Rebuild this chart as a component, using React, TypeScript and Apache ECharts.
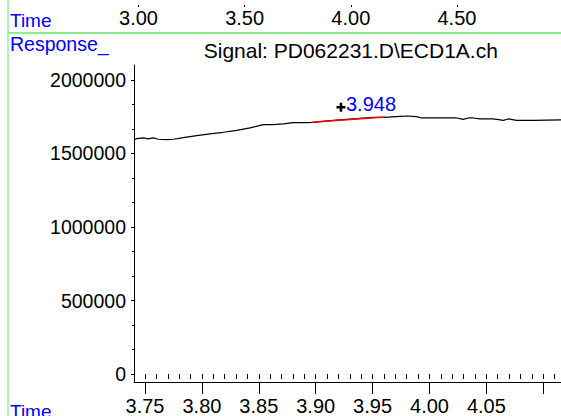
import React, { useEffect, useRef } from "react";
import * as echarts from "echarts";

// Chromatogram signal (time in min, response)
const timeValues = [3.7412, 3.7427, 3.7485, 3.7529, 3.7573, 3.7617, 3.7691, 3.7749, 3.7837, 3.7954, 3.8071, 3.8188, 3.8306, 3.8423, 3.854, 3.8627, 3.8715, 3.8803, 3.8921, 3.8979, 3.9126, 3.9243, 3.936, 3.9506, 3.9609, 3.9741, 3.98, 3.9888, 3.9931, 4.0033, 4.0151, 4.0239, 4.0297, 4.0341, 4.0385, 4.0444, 4.0561, 4.0649, 4.0692, 4.0766, 4.0912, 4.1156];
const responseValues = [1594600, 1601400, 1606100, 1599300, 1606100, 1596600, 1594600, 1596600, 1608100, 1621600, 1633100, 1643900, 1657400, 1673600, 1696000, 1696000, 1700700, 1709500, 1709500, 1711500, 1723000, 1729700, 1736500, 1745300, 1745300, 1752000, 1754700, 1750000, 1741200, 1741200, 1741200, 1741200, 1731800, 1741200, 1741200, 1734500, 1734500, 1725000, 1734500, 1725000, 1725000, 1727700];

// Peak integration baseline
const baselineTimes = [3.8965, 3.9609];
const baselineValues = [1711500, 1748000];

// Peak marker
const peakMarkerTime = 3.9222;
const peakMarkerValue = 1814200;
const peakRetentionTime = 3.948;

// Axes
const xMajorTicks = [3.75, 3.8, 3.85, 3.9, 3.95, 4.0, 4.05, 4.1];
const xTickLabels = [3.75, 3.8, 3.85, 3.9, 3.95, 4.0, 4.05];
const yMajorTicks = [0, 500000, 1000000, 1500000, 2000000];
const yMinorTicks = [166667, 333333, 666667, 833333, 1166667, 1333333, 1666667, 1833333];
const overviewTicks = [3.0, 3.5, 4.0, 4.5];

const titleText = "Signal: PD062231.D\\ECD1A.ch";
const FONT = "'Liberation Sans', Arial, sans-serif";

export default function App() {
  const ref = useRef<HTMLDivElement>(null);
  useEffect(() => {
    if (!ref.current) return;
    const chart = echarts.init(ref.current, null, { renderer: "svg" });
    const xMinorTicks: number[] = [];
    for (let i = 375; i <= 411; i++) xMinorTicks.push(i / 100);

    const signal = timeValues.map((t, i) => [t, responseValues[i]]);
    const baseline = baselineTimes.map((t, i) => [t, baselineValues[i]]);

    const txt = (text: string, x: number, y: number, size: number, color: string, align = "left") => ({
      type: "text",
      x,
      y,
      silent: true,
      style: {
        text,
        fill: color,
        fontSize: size,
        fontFamily: FONT,
        align,
        textAlign: align,
        verticalAlign: "middle",
        textVerticalAlign: "middle",
      },
    });

    chart.setOption({
      animation: false,
      backgroundColor: "#ffffff",
      grid: [
        { left: 134, top: 65, width: 427, height: 319 },
        { left: 0, top: -20, width: 561, height: 20 },
      ],
      xAxis: [
        {
          gridIndex: 0,
          type: "value",
          min: 3.7403,
          max: 4.1156,
          position: "bottom",
          axisLine: { show: true, onZero: false, lineStyle: { color: "#000", width: 1 } },
          axisTick: { show: true, inside: false, length: 12, customValues: xMajorTicks, lineStyle: { color: "#000", width: 1 } },
          axisLabel: {
            show: true,
            customValues: xTickLabels,
            formatter: (v: number) => v.toFixed(2),
            margin: 14,
            fontSize: 20,
            fontFamily: FONT,
            color: "#000",
          },
          splitLine: { show: false },
        },
        {
          gridIndex: 0,
          type: "value",
          min: 3.7403,
          max: 4.1156,
          position: "bottom",
          axisLine: { show: false },
          axisTick: { show: true, inside: false, length: 5, customValues: xMinorTicks, lineStyle: { color: "#000", width: 1 } },
          axisLabel: { show: false },
          splitLine: { show: false },
        },
        {
          gridIndex: 1,
          type: "value",
          min: 2.3476,
          max: 4.9901,
          position: "bottom",
          axisLine: { show: false },
          axisTick: { show: true, inside: false, length: 2, customValues: overviewTicks, lineStyle: { color: "#000", width: 1 } },
          axisLabel: {
            show: true,
            customValues: overviewTicks,
            formatter: (v: number) => v.toFixed(2),
            margin: 3,
            fontSize: 20,
            fontFamily: FONT,
            color: "#000",
          },
          splitLine: { show: false },
        },
      ],
      yAxis: [
        {
          gridIndex: 0,
          type: "value",
          min: -54054,
          max: 2101365,
          position: "left",
          axisLine: { show: true, onZero: false, lineStyle: { color: "#000", width: 1 } },
          axisTick: { show: true, inside: false, length: 3, customValues: yMajorTicks, lineStyle: { color: "#000", width: 1 } },
          axisLabel: {
            show: true,
            customValues: yMajorTicks,
            formatter: (v: number) => String(v),
            margin: 8,
            fontSize: 19.5,
            fontFamily: FONT,
            color: "#000",
          },
          splitLine: { show: false },
        },
        {
          gridIndex: 0,
          type: "value",
          min: -54054,
          max: 2101365,
          position: "left",
          axisLine: { show: false },
          axisTick: { show: true, inside: false, length: 2, customValues: yMinorTicks, lineStyle: { color: "#000", width: 1 } },
          axisLabel: { show: false },
          splitLine: { show: false },
        },
        { gridIndex: 1, type: "value", show: false },
      ],
      series: [
        {
          type: "line",
          name: "signal",
          xAxisIndex: 0,
          yAxisIndex: 0,
          data: signal,
          symbol: "none",
          showSymbol: false,
          silent: true,
          lineStyle: { color: "#000", width: 1.2 },
          z: 2,
        },
        {
          type: "line",
          name: "baseline",
          xAxisIndex: 0,
          yAxisIndex: 0,
          data: baseline,
          symbol: "none",
          showSymbol: false,
          silent: true,
          lineStyle: { color: "#ff0000", width: 1.5 },
          z: 3,
        },
        {
          type: "scatter",
          name: "peak",
          xAxisIndex: 0,
          yAxisIndex: 0,
          data: [[peakMarkerTime, peakMarkerValue]],
          symbol: "path://M2.5,0H4.5V2.5H7V4.5H4.5V7H2.5V4.5H0V2.5H2.5Z",
          symbolSize: 9,
          silent: true,
          itemStyle: { color: "#000", opacity: 1 },
          label: {
            show: true,
            position: "right",
            distance: 0.5,
            offset: [0, -3],
            formatter: () => peakRetentionTime.toFixed(3),
            color: "#0000ff",
            fontSize: 20,
            fontFamily: FONT,
          },
          z: 4,
        },
      ],
      graphic: [
        { type: "line", silent: true, shape: { x1: 7, y1: 33, x2: 561, y2: 33 }, style: { stroke: "#8cee8c", lineWidth: 2 } },
        { type: "line", silent: true, shape: { x1: 8, y1: 0, x2: 8, y2: 416 }, style: { stroke: "#8cee8c", lineWidth: 1.4 } },
        txt("Time", 10, 20, 19, "#0000ff"),
        txt("Response_", 10, 44, 19.5, "#0000ff"),
        txt(titleText, 350.8, 50, 21, "#000", "center"),
        txt("Time", 10, 411, 19, "#0000ff"),
      ],
    });
    return () => chart.dispose();
  }, []);
  return <div ref={ref} style={{ position: "fixed", left: 0, top: 0, width: 561, height: 416 }} />;
}
